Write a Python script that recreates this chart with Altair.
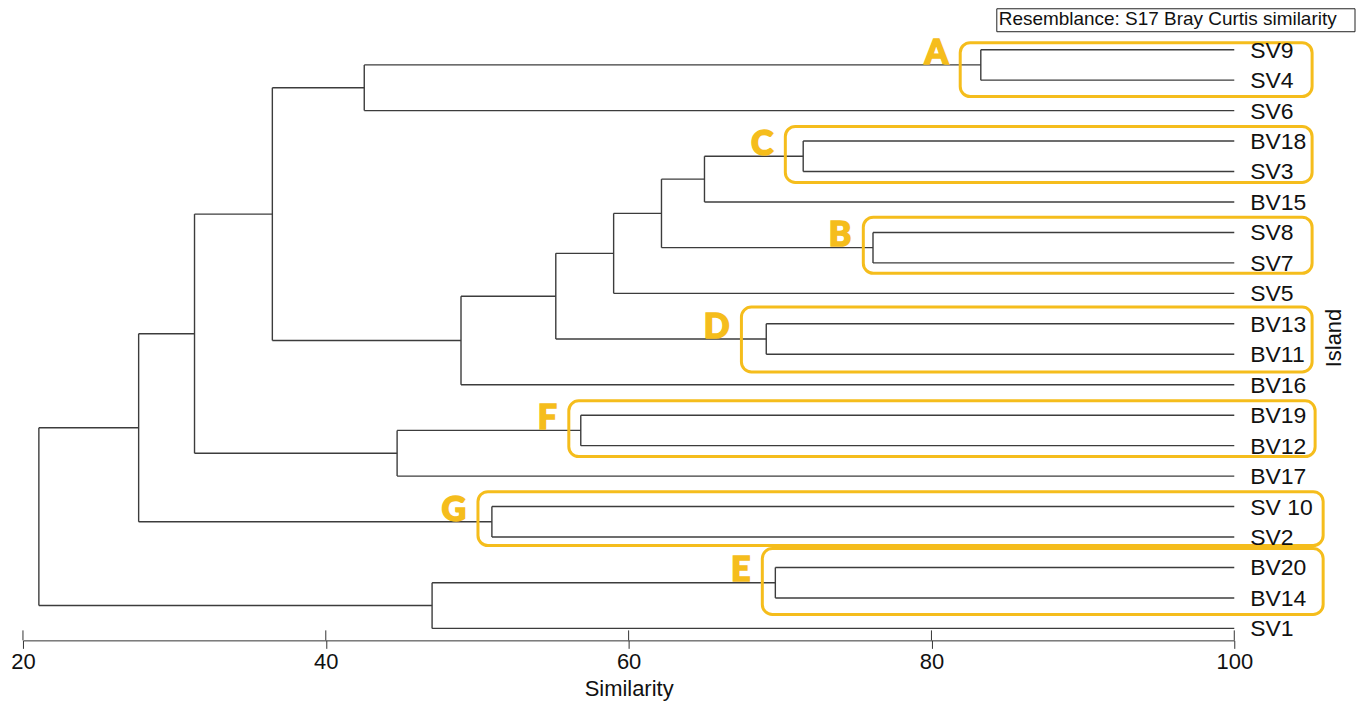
import altair as alt
import pandas as pd

# ---------------- data ----------------
leaves = ["SV9", "SV4", "SV6", "BV18", "SV3", "BV15", "SV8", "SV7", "SV5", "BV13",
          "BV11", "BV16", "BV19", "BV12", "BV17", "SV 10", "SV2", "BV20", "BV14", "SV1"]

# agglomeration steps: node name, left child, right child, similarity of merge
merge_names = ["A", "A6", "C", "C15", "B", "CB", "CB5", "D", "CBD", "CBD16",
               "T", "F", "F17", "TF", "G", "TG", "E", "E1", "ROOT"]
merge_left = ["SV9", "A", "BV18", "C", "SV8", "C15", "CB", "BV13", "CB5", "CBD",
              "A6", "BV19", "F", "T", "SV 10", "TF", "BV20", "E", "TG"]
merge_right = ["SV4", "SV6", "SV3", "BV15", "SV7", "B", "SV5", "BV11", "D", "BV16",
               "CBD16", "BV12", "BV17", "F17", "SV2", "G", "BV14", "SV1", "E1"]
merge_sim = [83.26, 42.54, 71.53, 65.01, 76.14, 62.17, 59.01, 69.09, 55.19, 48.93,
             36.47, 56.84, 44.71, 31.33, 50.97, 27.64, 69.69, 47.02, 21.05]

# highlighted groups (letter, box extent in similarity units and leaf rows)
group_letters = ["A", "C", "B", "D", "F", "G", "E"]
group_left = [81.9, 70.35, 75.5, 67.45, 56.05, 50.05, 68.83]
group_right = [105.14, 105.14, 105.14, 105.14, 105.34, 105.87, 105.87]
group_top = [-0.23, 2.52, 5.50, 8.45, 11.53, 14.51, 16.38]
group_bottom = [1.54, 4.36, 7.34, 10.58, 13.36, 16.28, 18.54]
group_row = [0, 3, 6, 9, 12, 15, 17]

tick_values = [20, 40, 60, 80, 100]
leaf_similarity = 100

# ---------------- build dendrogram segments ----------------
pos = {name: (leaf_similarity, i) for i, name in enumerate(leaves)}
segs = []
for name, l, r, s in zip(merge_names, merge_left, merge_right, merge_sim):
    lx, ly = pos[l]
    rx, ry = pos[r]
    segs.append({"x": lx, "x2": s, "y": ly, "y2": ly})
    segs.append({"x": rx, "x2": s, "y": ry, "y2": ry})
    segs.append({"x": s, "x2": s, "y": ly, "y2": ry})
    pos[name] = (s, (ly + ry) / 2)
seg_df = pd.DataFrame(segs)

leaf_df = pd.DataFrame({"label": leaves, "row": list(range(len(leaves))),
                        "sim": [leaf_similarity] * len(leaves)})
group_df = pd.DataFrame({"letter": group_letters, "left": group_left, "right": group_right,
                         "top": group_top, "bottom": group_bottom, "row": group_row})
tick_df = pd.DataFrame({"tick": tick_values})

# ---------------- styling ----------------
FONT = "Liberation Sans"
GOLD = "#F5BD1C"
LINE = "#3c3c3c"
W, H = 1214, 633

xscale = alt.Scale(domain=[20, 100], nice=False, zero=False)
yscale = alt.Scale(domain=[-1.343, 19.393], reverse=True, nice=False, zero=False)
xaxis = alt.Axis(values=tick_values, title="Similarity", grid=False, tickSize=8,
                 domainColor="#333", tickColor="#333", labelFont=FONT, titleFont=FONT,
                 labelFontSize=22, titleFontSize=22, titleFontWeight="normal",
                 labelColor="#111", titleColor="#111", labelPadding=3, titlePadding=6,
                 labelFlush=False)

lines = alt.Chart(seg_df).mark_rule(color=LINE, strokeWidth=1.4).encode(
    x=alt.X("x:Q", scale=xscale, axis=xaxis),
    x2="x2:Q",
    y=alt.Y("y:Q", scale=yscale, axis=None),
    y2="y2:Q",
)

up_ticks = alt.Chart(tick_df).mark_rule(color="#333", strokeWidth=1).encode(
    x=alt.X("tick:Q", scale=xscale, axis=xaxis),
    y=alt.value(H - 10),
    y2=alt.value(H),
)

labels = alt.Chart(leaf_df).mark_text(align="left", baseline="middle", dx=16, dy=1,
                                      font=FONT, fontSize=23, color="#111").encode(
    x=alt.X("sim:Q", scale=xscale, axis=xaxis),
    y=alt.Y("row:Q", scale=yscale, axis=None),
    text="label:N",
)

boxes = alt.Chart(group_df).mark_rect(filled=False, stroke=GOLD, strokeWidth=3,
                                      cornerRadius=10).encode(
    x=alt.X("left:Q", scale=xscale, axis=xaxis),
    x2="right:Q",
    y=alt.Y("top:Q", scale=yscale, axis=None),
    y2="bottom:Q",
)

letters = alt.Chart(group_df).mark_text(align="right", baseline="alphabetic", dx=-12, dy=14,
                                        font="Lato", fontWeight=900, fontSize=34,
                                        color=GOLD, stroke=GOLD, strokeWidth=1.6).encode(
    x=alt.X("left:Q", scale=xscale, axis=xaxis),
    y=alt.Y("row:Q", scale=yscale, axis=None),
    text="letter:N",
)

note_df = pd.DataFrame({"t": ["Resemblance: S17 Bray Curtis similarity"]})
note_box = alt.Chart(note_df).mark_rect(fill="white", stroke="#222", strokeWidth=1).encode(
    x=alt.value(976), x2=alt.value(1335), y=alt.value(0), y2=alt.value(23))
note_text = alt.Chart(note_df).mark_text(align="left", baseline="alphabetic", font=FONT,
                                         fontSize=19, color="#111").encode(
    x=alt.value(978), y=alt.value(16), text="t:N")

island_df = pd.DataFrame({"t": ["Island"]})
island = alt.Chart(island_df).mark_text(align="center", baseline="middle", angle=270,
                                        font=FONT, fontSize=22, color="#111").encode(
    x=alt.value(1314), y=alt.value(330), text="t:N")

chart = alt.layer(lines, up_ticks, boxes, letters, labels, note_box, note_text, island).properties(
    width=W, height=H,
    autosize=alt.AutoSizeParams(type="none"),
    padding={"left": 15, "top": 0, "right": 123, "bottom": 62},
    background="white",
).configure_view(stroke=None)

chart.save("out.html", embed_options={"renderer": "svg", "actions": False})
